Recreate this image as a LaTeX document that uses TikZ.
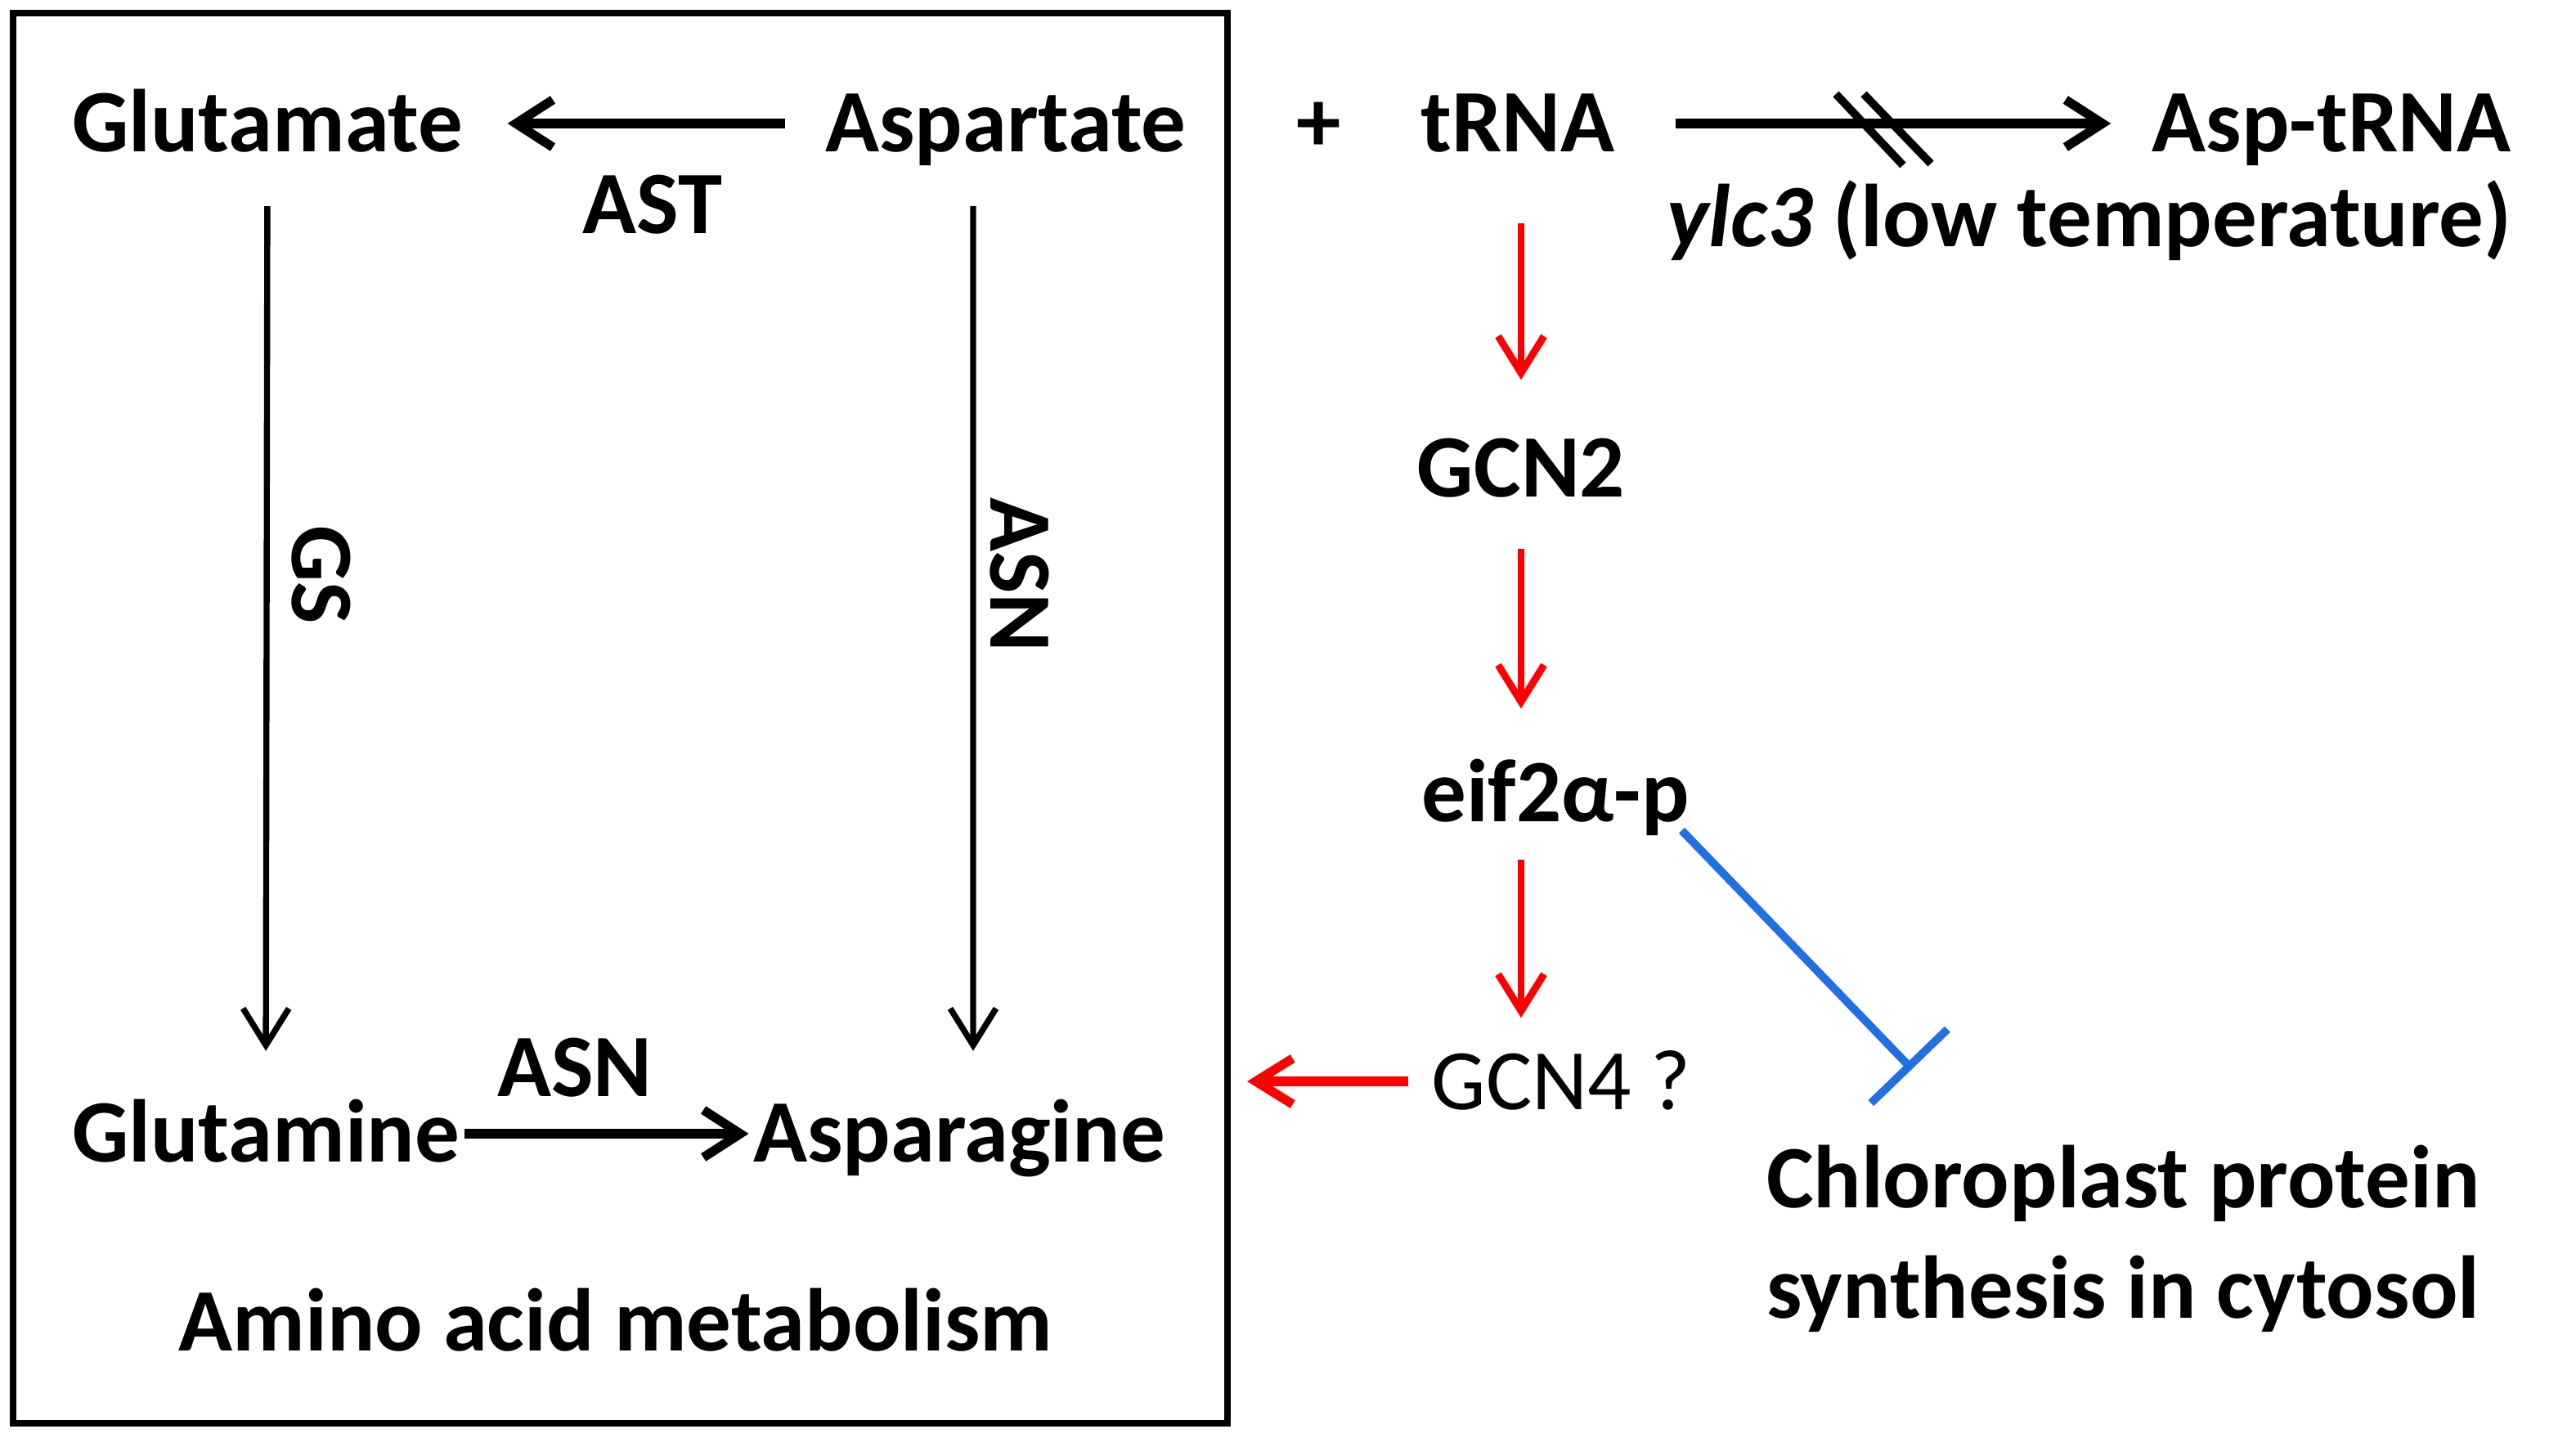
\documentclass[tikz,border=0pt]{standalone}
\usepackage{fontspec}
\setmainfont{Carlito}
\usetikzlibrary{arrows.meta}

\definecolor{inhblue}{RGB}{31,111,229}

\tikzset{
  met/.style={font=\fontsize{31}{37}\selectfont\bfseries, inner sep=0pt, text height=0.69cm, text depth=0pt},
  blk/.style={-{Straight Barb[length=4.5mm,width=5.8mm]}, line width=3.2pt},
  vline/.style={-{Straight Barb[length=4.5mm,width=5.6mm]}, line width=2.1pt},
  redarr/.style={-{Straight Barb[length=4.5mm,width=5.6mm]}, line width=2.5pt, red},
  inhib/.style={-{Bar[width=1.3cm]}, line width=2.8pt, inhblue}
}

\begin{document}
\begin{tikzpicture}
\useasboundingbox (0,0) rectangle (31.5,17.57);

%box
\node[draw, line width=2.3pt, minimum width=14.85cm, minimum height=17.24cm, inner sep=0pt] (box) at (7.585,8.79) {};

%compounds
\node[met] (glu) at (3.27,16.06) {Glutamate};
\node[met] (asp) at (12.30,16.06) {Aspartate};
\node[met] (plus) at (16.13,16.06) {+};
\node[met] (trna) at (18.56,16.06) {tRNA};
\node[met] (asptrna) at (28.51,16.06) {Asp-tRNA};
\node[met] (ylc) at (25.55,14.90) {\textit{ylc3} (low temperature)};
\node[met] (gln) at (3.25,3.71) {Glutamine};
\node[met] (asn) at (11.73,3.71) {Asparagine};
\node[met] (amino) at (7.53,1.40) {Amino acid metabolism};

%enzymes
\node[met] (ast) at (7.98,15.06) {AST};
\node[met, rotate=-90] (gs) at (3.92,10.54) {GS};
\node[met, rotate=-90] (asnv) at (12.46,10.54) {ASN};
\node[met] (asnh) at (7.03,4.51) {ASN};

%signalling
\node[met] (gcn2) at (18.60,11.84) {GCN2};
\node[met] (eif) at (19.02,7.87) {eif2α-p};
\node[met, font=\fontsize{30}{36}\selectfont] (gcn4) at (19.09,4.35) {GCN4 ?};
\node[met] (chl) at (25.96,3.15) {Chloroplast protein};
\node[met] (syn) at (25.96,1.80) {synthesis in cytosol};
\coordinate (inh) at (23.38,4.50);

%metabolism arrows
\draw[blk, shorten <=0.49cm, shorten >=0.54cm] (asp.west) -- (glu.east);
\draw[blk, shorten <=0.05cm, shorten >=0.05cm] (gln.east) -- (asn.west);
\draw[vline, shorten <=0.66cm, shorten >=0.66cm] (glu.south) -- (gln.north);
\draw[vline, shorten <=0.66cm, shorten >=0.66cm] ([xshift=-0.40cm]asp.south) -- ([xshift=0.17cm]asn.north);

%charging
\draw[blk, shorten <=0.74cm, shorten >=0.50cm] (trna.east) -- (asptrna.west);
\draw[line width=2.8pt] (22.45,16.42) -- (23.27,15.55);
\draw[line width=2.8pt] (22.79,16.42) -- (23.61,15.57);

%red pathway
\draw[redarr, shorten <=0.865cm, shorten >=0.735cm] (gcn2.north |- trna.south) -- (gcn2.north);
\draw[redarr, shorten <=0.625cm, shorten >=0.685cm] (gcn2.south) -- (gcn2.south |- eif.north);
\draw[redarr, shorten <=0.455cm, shorten >=0.425cm] (eif.south -| gcn2.south) -- (gcn4.north -| gcn2.south);
\draw[redarr, line width=3.2pt, shorten <=0.28cm, shorten >=0.20cm] (gcn4.west) -- (gcn4.west -| box.east);

%inhibition
\draw[inhib] ([xshift=-0.1cm,yshift=-0.1cm]eif.south east) -- (inh);

\end{tikzpicture}
\end{document}
